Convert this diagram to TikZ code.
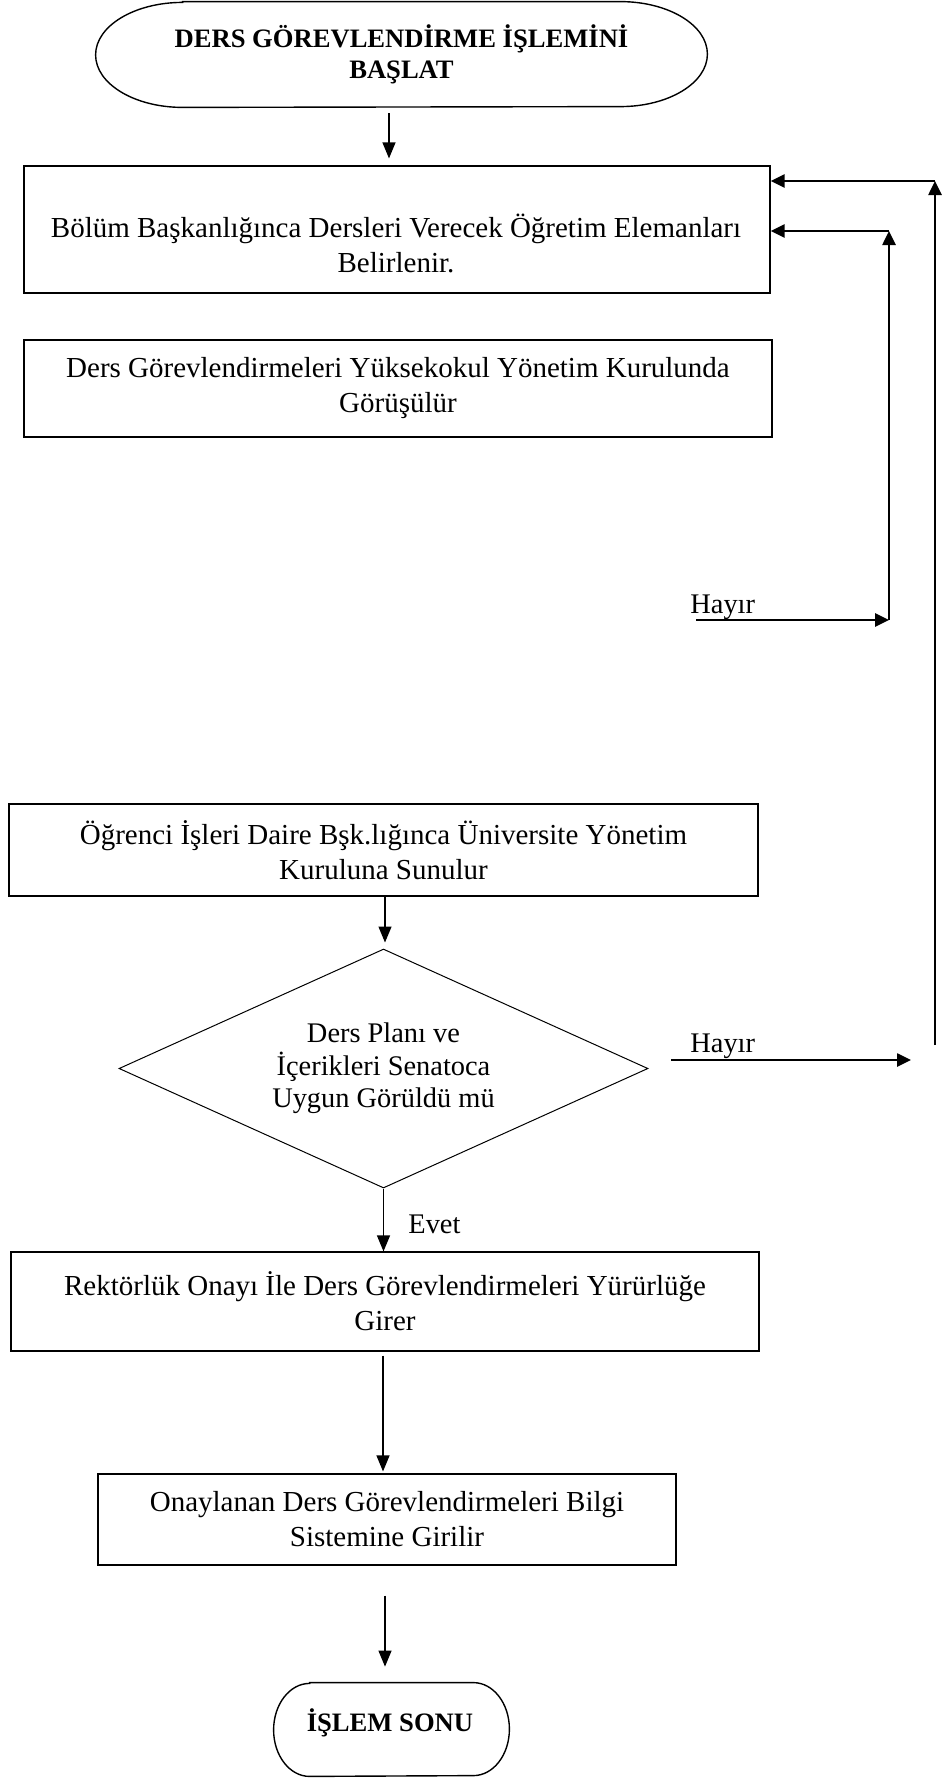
\documentclass[tikz,border=0pt]{standalone}
\usepackage{fontspec}
\setmainfont{Liberation Serif}
\usetikzlibrary{arrows.meta,shapes.geometric,calc}
\begin{document}
\begin{tikzpicture}[x=0.5pt,y=0.5pt,
  txt/.style={font=\fontsize{14.5}{17.5}\selectfont, align=center, inner sep=0pt},
  box/.style={draw, line width=0.6pt, rectangle, inner sep=0pt, txt},
  ttl/.style={font=\fontsize{13.3}{15.5}\selectfont\bfseries, align=center, inner sep=0pt},
  term/.style={line width=0.7pt},
  arr/.style={line width=0.6pt, -{Triangle[length=8pt,width=6.5pt]}},
  larr/.style={line width=1.3pt, -{Triangle[length=7pt,width=6.5pt]}},
  lbl/.style={font=\fontsize{14.2}{17}\selectfont, inner sep=0pt, anchor=base west}]
\useasboundingbox (0,0) rectangle (944,-1778);

% start terminal
\node[ttl, minimum width=305.5pt, minimum height=52.5pt] (start) at (401.5,-54.5)
  {DERS GÖREVLENDİRME İŞLEMİNİ\\BAŞLAT};
\draw[term] ($(start.north west)+(87,0)$) -- ($(start.north east)+(-87,0)$)
  arc[start angle=90,end angle=-90,x radius=43.5pt,y radius=26.25pt]
  -- ($(start.south west)+(87,0)$)
  arc[start angle=270,end angle=90,x radius=43.5pt,y radius=26.25pt] -- cycle;

% process boxes
\node[box, minimum width=373pt, minimum height=63.5pt] (box1) at (397,-229.5) {};
\node[txt] (box1t) at (396,-243)
  {Bölüm Başkanlığınca Dersleri Verecek Öğretim Elemanları\\Belirlenir.};

\node[box, minimum width=374pt, minimum height=48.5pt] (box2) at (398,-388.5)
  {Ders Görevlendirmeleri Yüksekokul Yönetim Kurulunda\\Görüşülür};

\node[box, minimum width=374.5pt, minimum height=46pt] (box3) at (383.5,-850)
  {Öğrenci İşleri Daire Bşk.lığınca Üniversite Yönetim\\Kuruluna Sunulur};

\node[draw, diamond, aspect=2.2, line width=0.5pt, minimum width=264.5pt, minimum height=119.5pt,
  inner sep=0pt, font=\fontsize{14.2}{16.25}\selectfont, align=center] (dia) at (383.5,-1068.5)
  {Ders Planı ve\\İçerikleri Senatoca\\Uygun Görüldü mü};

\node[box, minimum width=374pt, minimum height=49.5pt] (box4) at (385,-1301.5)
  {Rektörlük Onayı İle Ders Görevlendirmeleri Yürürlüğe\\Girer};

\node[box, minimum width=289pt, minimum height=45.5pt] (box5) at (387,-1519.5)
  {Onaylanan Ders Görevlendirmeleri Bilgi\\Sistemine Girilir};

% end terminal
\node[minimum width=117.5pt, minimum height=46.5pt, inner sep=0pt] (endt) at (391.5,-1729.5) {};
\draw[term] ($(endt.north west)+(36,0)$) -- ($(endt.north east)+(-36,0)$)
  arc[start angle=90,end angle=-90,x radius=18pt,y radius=23.25pt]
  -- ($(endt.south west)+(36,0)$)
  arc[start angle=270,end angle=90,x radius=18pt,y radius=23.25pt] -- cycle;
\node[ttl] (endtxt) at (390,-1723) {İŞLEM SONU};

% labels
\node[lbl] (hayir1) at (690,-613) {Hayır};
\node[lbl] (hayir2) at (690,-1052) {Hayır};
\node[lbl] (evet) at (408,-1233) {Evet};

% main flow
\draw[arr] ($(start.south)+(-12.5,-6)$) -- ($(box1.north)+(-8,7)$);
\draw[arr] ($(box3.south)+(1.5,0)$) -- ($(dia.north)+(1.5,6)$);
\draw[arr] (dia.south) -- (dia.south |- box4.north);
\draw[arr] ($(box4.south)+(-2,-4)$) -- ($(box5.north)+(-4,2)$);
\draw[arr] ($(box5.south)+(-2,-30)$) -- ($(endt.north)+(-6.5,16)$);

% return loops
\coordinate (h1s) at (696,-620);
\coordinate (h1c) at (889,-620);
\coordinate (h1t) at (889,-231);
\draw[larr] (h1s) -- (h1c);
\draw[larr] (h1c) -- (h1t);
\draw[larr] (h1t) -- (h1t -| box1.east);

\coordinate (h2s) at (671,-1060);
\coordinate (h2e) at (911,-1060);
\coordinate (v2b) at (935,-1045);
\coordinate (v2t) at (935,-181);
\draw[larr] (h2s) -- (h2e);
\draw[larr] (v2b) -- (v2t);
\draw[larr] (v2t) -- (v2t -| box1.east);
\end{tikzpicture}
\end{document}
